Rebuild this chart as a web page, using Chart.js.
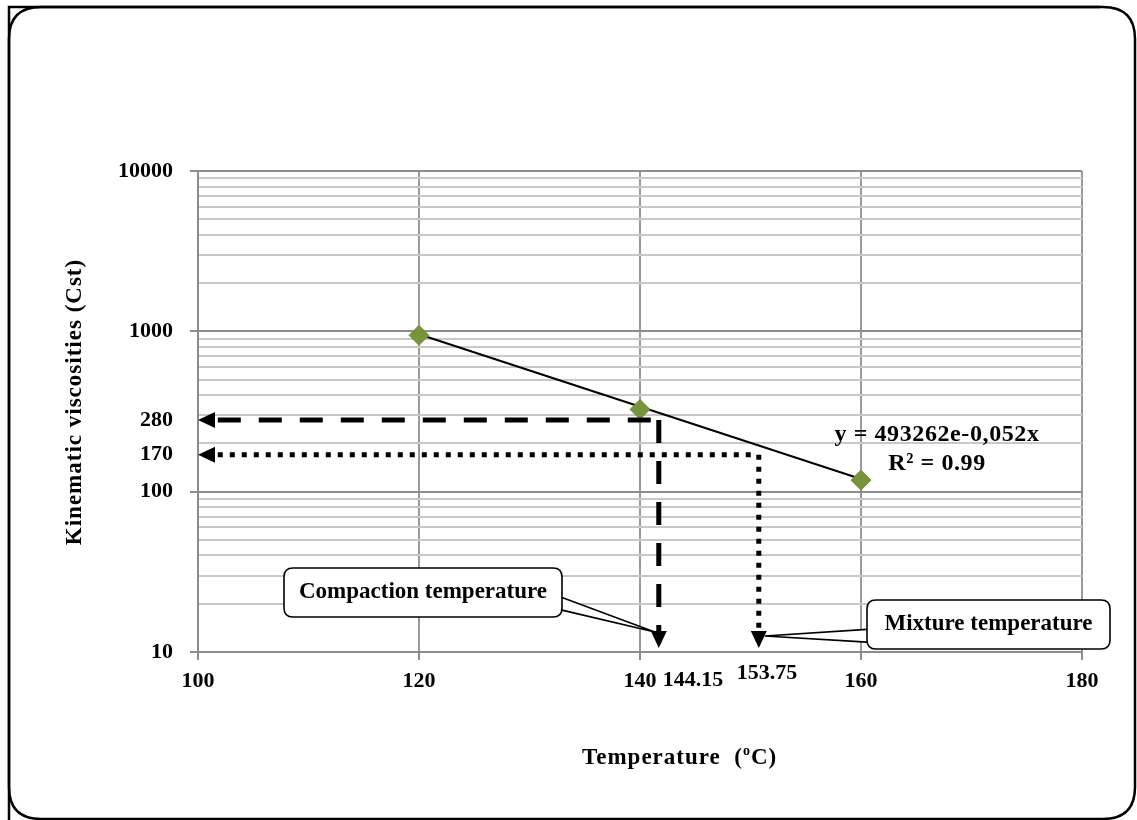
<!DOCTYPE html>
<html>
<head>
<meta charset="utf-8">
<script src="https://cdn.jsdelivr.net/npm/chart.js@4.4.1/dist/chart.umd.min.js"></script>
<style>
  html, body { margin: 0; padding: 0; background: #fff; }
  canvas { display: block; }
</style>
</head>
<body>
<canvas id="chart" width="1137" height="820" style="width:1137px;height:820px"></canvas>
<script>
// measured points
const temps = [120, 140, 160]
const viscosities = [944, 326, 118]

// exponential trend line (straight on log axis), end points
const trendX = [120, 160]
const trendY = [958, 120]

// axis ticks
const xTicks = [100, 120, 140, 160, 180]
const yMajor = [10, 100, 1000, 10000]
const yExtra = [170, 280]

// guide arrows: level on y axis, where the vertical drops, and its label
const guideLevels = [280, 170]
const guideDrops = [141.7, 150.75]
const guideLabels = ["144.15", "153.75"]
const guideLabelAt = [144.8, 151.5]

const FONT = "'Liberation Serif', 'Times New Roman', serif"

// all log grid values between 10 and 10000
const yGrid = []
for (let d = 10; d < 10000; d *= 10) {
  for (let m = 1; m < 10; m++) yGrid.push(d * m)
}
yGrid.push(10000)
const yTickValues = yGrid.concat(yExtra).sort((a, b) => a - b)

function drawArrow(ctx, x1, y1, x2, y2, dash, width) {
  const head = 17
  const half = 8
  const ang = Math.atan2(y2 - y1, x2 - x1)
  const bx = x2 - head * Math.cos(ang)
  const by = y2 - head * Math.sin(ang)
  ctx.save()
  ctx.strokeStyle = "#000"
  ctx.lineWidth = width
  ctx.setLineDash(dash)
  ctx.beginPath()
  ctx.moveTo(x1, y1)
  ctx.lineTo(bx, by)
  ctx.stroke()
  ctx.setLineDash([])
  ctx.fillStyle = "#000"
  ctx.beginPath()
  ctx.moveTo(x2, y2)
  ctx.lineTo(bx + half * Math.sin(ang), by - half * Math.cos(ang))
  ctx.lineTo(bx - half * Math.sin(ang), by + half * Math.cos(ang))
  ctx.closePath()
  ctx.fill()
  ctx.restore()
}

function roundRect(ctx, x, y, w, h, r) {
  ctx.beginPath()
  ctx.moveTo(x + r, y)
  ctx.lineTo(x + w - r, y)
  ctx.quadraticCurveTo(x + w, y, x + w, y + r)
  ctx.lineTo(x + w, y + h - r)
  ctx.quadraticCurveTo(x + w, y + h, x + w - r, y + h)
  ctx.lineTo(x + r, y + h)
  ctx.quadraticCurveTo(x, y + h, x, y + h - r)
  ctx.lineTo(x, y + r)
  ctx.quadraticCurveTo(x, y, x + r, y)
  ctx.closePath()
}

function callout(ctx, box, text, side, tip) {
  const { x, y, w, h } = box
  const ex = side === "right" ? x + w : x
  const a = y + h * 0.6
  const b = y + h * 0.86
  ctx.save()
  ctx.lineWidth = 1.6
  ctx.strokeStyle = "#000"
  ctx.fillStyle = "#fff"
  // pointer wedge
  ctx.beginPath()
  ctx.moveTo(ex, a)
  ctx.lineTo(tip.x, tip.y)
  ctx.lineTo(ex, b)
  ctx.closePath()
  ctx.fill()
  ctx.beginPath()
  ctx.moveTo(ex, a)
  ctx.lineTo(tip.x, tip.y)
  ctx.lineTo(ex, b)
  ctx.stroke()
  roundRect(ctx, x, y, w, h, 9)
  ctx.fill()
  ctx.stroke()
  ctx.fillStyle = "#000"
  ctx.font = "bold 23px " + FONT
  ctx.textAlign = "center"
  ctx.textBaseline = "middle"
  ctx.fillText(text, x + w / 2, y + h / 2)
  ctx.restore()
}

const overlay = {
  id: "overlay",
  afterDatasetsDraw(chart) {
    const ctx = chart.ctx
    const xs = chart.scales.x
    const ys = chart.scales.y

    // guide arrows
    const dashes = [[23, 18], [5, 7]]
    guideLevels.forEach((lvl, i) => {
      const cx = xs.getPixelForValue(guideDrops[i])
      const cy = ys.getPixelForValue(lvl)
      drawArrow(ctx, cx - 8, cy, xs.getPixelForValue(100), cy, dashes[i], 5)
      drawArrow(ctx, cx, cy, cx, ys.getPixelForValue(10) - 4, dashes[i], 5)
    })

    ctx.save()
    ctx.fillStyle = "#000"
    ctx.textAlign = "center"
    ctx.textBaseline = "middle"
    ctx.font = "bold 22px " + FONT
    ctx.fillText(guideLabels[0], xs.getPixelForValue(guideLabelAt[0]), 680)
    ctx.fillText(guideLabels[1], xs.getPixelForValue(guideLabelAt[1]), 673)

    // trend equation
    ctx.font = "bold 24px " + FONT
    ctx.letterSpacing = "0.6px"
    ctx.fillText("y = 493262e-0,052x", 937, 435)
    ctx.fillText("R² = 0.99", 937, 464)

    // axis titles
    ctx.font = "bold 23px " + FONT
    ctx.letterSpacing = "1px"
    ctx.save()
    ctx.translate(75, 402)
    ctx.rotate(-Math.PI / 2)
    ctx.fillText("Kinematic viscosities (Cst)", 0, 0)
    ctx.restore()
    ctx.textAlign = "left"
    let tx = 582
    const t1 = "Temperature  ("
    ctx.fillText(t1, tx, 758)
    tx += ctx.measureText(t1).width
    ctx.font = "bold 14px " + FONT
    ctx.fillText("o", tx, 751)
    tx += ctx.measureText("o").width
    ctx.font = "bold 23px " + FONT
    ctx.fillText("C)", tx, 758)
    ctx.letterSpacing = "0px"
    ctx.restore()

    // callouts
    callout(ctx, { x: 284, y: 568, w: 278, h: 49 }, "Compaction temperature", "right",
      { x: xs.getPixelForValue(guideDrops[0]) - 4, y: 632 })
    callout(ctx, { x: 867, y: 600, w: 243, h: 49 }, "Mixture temperature", "left",
      { x: xs.getPixelForValue(guideDrops[1]) + 6, y: 636 })
  },
  afterDraw(chart) {
    // outer frame
    const ctx = chart.ctx
    ctx.save()
    ctx.strokeStyle = "#000"
    ctx.lineWidth = 2.5
    roundRect(ctx, 9, 7, 1126, 812, 32)
    ctx.stroke()
    ctx.beginPath()
    ctx.moveTo(9, 820)
    ctx.lineTo(9, 7)
    ctx.lineTo(1100, 7)
    ctx.stroke()
    ctx.restore()
  },
}

const ctx = document.getElementById("chart").getContext("2d")
const chart = new Chart(ctx, {
  type: "scatter",
  data: {
    datasets: [
      {
        label: "Trend",
        data: trendX.map((x, i) => ({ x: x, y: trendY[i] })),
        showLine: true,
        borderColor: "#000",
        borderWidth: 2,
        pointRadius: 0,
        order: 2,
      },
      {
        label: "Viscosity",
        data: temps.map((t, i) => ({ x: t, y: viscosities[i] })),
        pointStyle: "rectRot",
        pointRadius: 10,
        backgroundColor: "#77933c",
        borderColor: "#77933c",
        borderWidth: 1,
        order: 1,
      },
    ],
  },
  options: {
    responsive: false,
    animation: false,
    layout: { padding: { left: 0, top: 171, right: 55, bottom: 0 } },
    plugins: {
      legend: { display: false },
      tooltip: { enabled: false },
    },
    scales: {
      x: {
        type: "linear",
        min: 100,
        max: 180,
        afterFit: (scale) => { scale.height = 168 },
        afterBuildTicks: (scale) => { scale.ticks = xTicks.map((v) => ({ value: v })) },
        border: { display: true, color: "#8c8c8c", width: 2 },
        grid: {
          color: "#9a9a9a",
          lineWidth: 2,
          tickLength: 8,
          tickColor: "#8c8c8c",
        },
        ticks: {
          padding: 8,
          color: "#000",
          font: { family: FONT, size: 22, weight: "bold" },
          maxRotation: 0,
          autoSkip: false,
        },
      },
      y: {
        type: "logarithmic",
        min: 10,
        max: 10000,
        afterFit: (scale) => { scale.width = 198 },
        afterBuildTicks: (scale) => { scale.ticks = yTickValues.map((v) => ({ value: v })) },
        border: { display: true, color: "#8c8c8c", width: 2 },
        grid: {
          color: (c) => {
            const v = c.tick && c.tick.value
            if (yExtra.includes(v)) return "rgba(0,0,0,0)"
            return yMajor.includes(v) ? "#8c8c8c" : "#c8c8c8"
          },
          lineWidth: 2,
          tickLength: 8,
          tickColor: (c) => (c.tick && yMajor.includes(c.tick.value) ? "#8c8c8c" : "rgba(0,0,0,0)"),
        },
        ticks: {
          padding: 17,
          color: "#000",
          autoSkip: false,
          font: { family: FONT, size: 22, weight: "bold" },
          callback: (v) => (yMajor.includes(v) || yExtra.includes(v) ? String(v) : ""),
        },
      },
    },
  },
  plugins: [overlay],
})
</script>
</body>
</html>
